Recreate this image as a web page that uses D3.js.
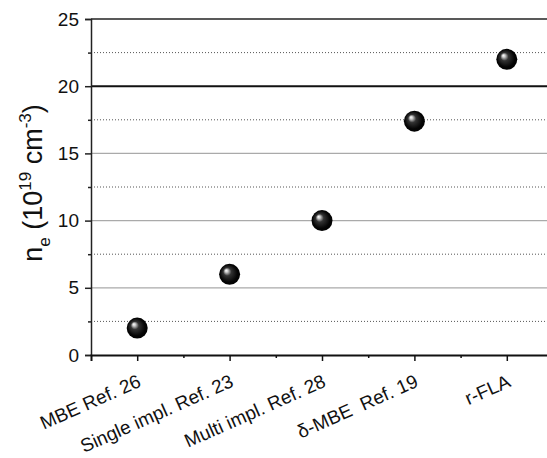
<!DOCTYPE html>
<html>
<head>
<meta charset="utf-8">
<script src="https://cdn.jsdelivr.net/npm/d3@7"></script>
<style>
  html, body { margin: 0; padding: 0; background: #fff; overflow: hidden; }
  svg { display: block; font-family: "Liberation Sans", Arial, sans-serif; }
</style>
</head>
<body>
<svg id="chart" width="547" height="458"></svg>
<script>
// Carrier concentration per growth/doping method
const categories = ["MBE Ref. 26", "Single impl. Ref. 23", "Multi impl. Ref. 28", "\u03b4-MBE  Ref. 19", "r-FLA"];
const values = [2, 6, 10, 17.4, 22];
const yTicks = [0, 5, 10, 15, 20, 25];
const yMinorTicks = [2.5, 7.5, 12.5, 17.5, 22.5];
const solidGrid = [5, 10, 15];
const thickGrid = [20];

const svg = d3.select("#chart");
const margin = { left: 91, top: 19, bottom: 355 };
const plotRight = 553;

const x = d3.scaleLinear().domain([0.5, categories.length + 0.5]).range([margin.left, plotRight]);
const y = d3.scaleLinear().domain([0, 25]).range([margin.bottom, margin.top]);

// sphere shading
const defs = svg.append("defs");
const grad = defs.append("radialGradient")
  .attr("id", "ball").attr("cx", "50%").attr("cy", "50%").attr("r", "55%")
  .attr("fx", "33%").attr("fy", "31%");
grad.append("stop").attr("offset", "0%").attr("stop-color", "#ffffff");
grad.append("stop").attr("offset", "12%").attr("stop-color", "#cfcfcf");
grad.append("stop").attr("offset", "35%").attr("stop-color", "#333333");
grad.append("stop").attr("offset", "75%").attr("stop-color", "#050505");
grad.append("stop").attr("offset", "100%").attr("stop-color", "#000000");

// grid lines
const grid = svg.append("g");
grid.selectAll("line.minor").data(yMinorTicks).join("line")
  .attr("x1", margin.left).attr("x2", plotRight)
  .attr("y1", d => y(d)).attr("y2", d => y(d))
  .attr("stroke", "#555").attr("stroke-width", 1).attr("stroke-dasharray", "1,2");
grid.selectAll("line.solid").data(solidGrid).join("line")
  .attr("x1", margin.left).attr("x2", plotRight)
  .attr("y1", d => y(d)).attr("y2", d => y(d))
  .attr("stroke", "#aaa").attr("stroke-width", 1.2);
grid.selectAll("line.thick").data(thickGrid).join("line")
  .attr("x1", margin.left).attr("x2", plotRight)
  .attr("y1", d => y(d)).attr("y2", d => y(d))
  .attr("stroke", "#111").attr("stroke-width", 2);

// top frame line
svg.append("line")
  .attr("x1", margin.left).attr("x2", plotRight)
  .attr("y1", y(25)).attr("y2", y(25))
  .attr("stroke", "#222").attr("stroke-width", 1.5);

// y axis
const yAxis = svg.append("g").attr("transform", `translate(${margin.left},0)`)
  .call(d3.axisLeft(y).tickValues(yTicks).tickSize(6).tickPadding(6));
yAxis.select(".domain").attr("stroke", "#222").attr("stroke-width", 1.5);
yAxis.selectAll(".tick line").attr("stroke", "#222").attr("stroke-width", 1.5);
yAxis.selectAll(".tick text").attr("font-size", 19).attr("fill", "#111")
  .attr("font-family", "Liberation Sans, Arial, sans-serif");
svg.append("g").attr("transform", `translate(${margin.left},0)`)
  .call(d3.axisLeft(y).tickValues(yMinorTicks).tickSize(3).tickFormat(""))
  .call(g => g.select(".domain").remove())
  .selectAll(".tick line").attr("stroke", "#222").attr("stroke-width", 1.5);

// x axis
const catTicks = d3.range(1, categories.length + 1);
const xAxis = svg.append("g").attr("transform", `translate(0,${margin.bottom})`)
  .call(d3.axisBottom(x).tickValues(catTicks).tickSize(6).tickFormat(""));
xAxis.select(".domain").attr("stroke", "#111").attr("stroke-width", 2);
xAxis.selectAll(".tick line").attr("stroke", "#111").attr("stroke-width", 1.5);
svg.append("g").attr("transform", `translate(0,${margin.bottom})`)
  .call(d3.axisBottom(x).tickValues(catTicks.map(d => d + 0.5)).tickSize(3).tickFormat(""))
  .call(g => g.select(".domain").remove())
  .selectAll(".tick line").attr("stroke", "#111").attr("stroke-width", 1.5);

// rotated category labels
svg.append("g").selectAll("text").data(categories).join("text")
  .attr("transform", (d, i) => `translate(${x(i + 1) + 5},${margin.bottom + 31}) rotate(-24)`)
  .attr("text-anchor", "end")
  .attr("font-size", 19).attr("fill", "#111")
  .style("white-space", "pre")
  .text(d => d);

// y axis title
const title = svg.append("text")
  .attr("transform", `translate(42,183) rotate(-90)`)
  .attr("text-anchor", "middle").attr("font-size", 27).attr("fill", "#111");
title.append("tspan").text("n");
title.append("tspan").attr("font-size", 17).attr("dy", 8).text("e");
title.append("tspan").attr("dy", -8).text(" (10");
title.append("tspan").attr("font-size", 17).attr("dy", -11).text("19");
title.append("tspan").attr("dy", 11).text(" cm");
title.append("tspan").attr("font-size", 17).attr("dy", -11).text("-3");
title.append("tspan").attr("dy", 11).text(")");

// data points
svg.append("g").selectAll("circle").data(values).join("circle")
  .attr("cx", (d, i) => x(i + 1))
  .attr("cy", d => y(d))
  .attr("r", 10.5)
  .attr("fill", "url(#ball)");
</script>
</body>
</html>
